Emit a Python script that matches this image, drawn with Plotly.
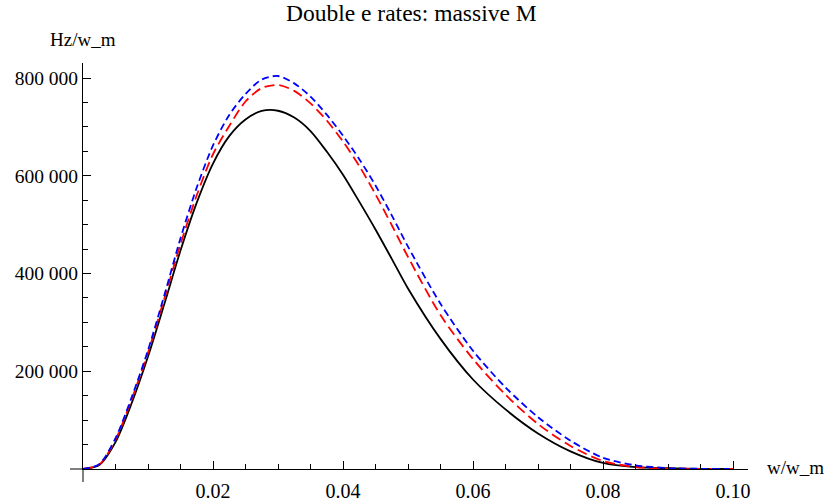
import plotly.graph_objects as go

# ---- data ----
w = [0, 0.0025, 0.005, 0.0075, 0.01, 0.0125, 0.015, 0.0175, 0.02, 0.0225,
     0.025, 0.0275, 0.03, 0.0325, 0.035, 0.0375, 0.04, 0.0425, 0.045, 0.0475,
     0.05, 0.055, 0.06, 0.065, 0.07, 0.075, 0.08, 0.085, 0.09, 0.095, 0.1]

rate_black = [0, 8000, 55000, 135000, 230000, 337000, 447000, 545000, 625000, 681000,
              715000, 732500, 733000, 719000, 691500, 649500, 602000, 547000, 490000, 430000,
              369300, 266200, 183100, 121900, 72800, 36200, 12300, 3700, 1600, 400, 0]

rate_red = [0, 9000, 60000, 143000, 238000, 348000, 460000, 560000, 644000, 701800,
            751900, 779500, 785700, 773700, 748000, 713000, 670000, 620000, 562000, 499000,
            434000, 315000, 225000, 152000, 92000, 47100, 16400, 4100, 1000, 200, 0]

rate_blue = [0, 10000, 63000, 147000, 243000, 355000, 472000, 576000, 662000, 724300,
             767300, 796900, 804100, 789000, 762000, 725000, 682000, 634000, 580000, 519000,
             455000, 338000, 242000, 167000, 106000, 58000, 23000, 7500, 2000, 400, 0]

x_tick_vals = [0.02, 0.04, 0.06, 0.08, 0.10]
x_tick_text = ["0.02", "0.04", "0.06", "0.08", "0.10"]

y_tick_vals = [200000, 400000, 600000, 800000]
y_tick_text = ["200 000", "400 000", "600 000", "800 000"]

title_text = "Double e rates: massive M"
x_label = "w/w_m"
y_label = "Hz/w_m"

# ---- figure ----
FONT = "Liberation Serif, Times New Roman, serif"

fig = go.Figure()
fig.add_trace(go.Scatter(x=w, y=rate_black, mode="lines",
                         line=dict(color="#000000", width=1.8, shape="spline", smoothing=0.8)))
fig.add_trace(go.Scatter(x=w, y=rate_red, mode="lines",
                         line=dict(color="#FF0000", width=1.8, dash="10px,5px",
                                   shape="spline", smoothing=0.8)))
fig.add_trace(go.Scatter(x=w, y=rate_blue, mode="lines",
                         line=dict(color="#0000FF", width=1.8, dash="7px,4px",
                                   shape="spline", smoothing=0.8)))

L, R, T, B = 83, 83, 63, 33
W, H = 831, 502
pw, ph = W - L - R, H - T - B

x1 = pw / 6500.0
y1 = ph * 800000.0 / 391.0
ext = 13  # axis extension beyond the origin, px

fig.update_layout(
    width=W, height=H,
    margin=dict(l=L, r=R, t=T, b=B, autoexpand=False),
    paper_bgcolor="white", plot_bgcolor="white",
    showlegend=False,
    font=dict(family=FONT, size=20, color="black"),
    xaxis=dict(
        range=[0, x1], automargin=False,
        showline=True, linecolor="black", linewidth=1,
        showgrid=False, zeroline=False,
        tickmode="array", tickvals=x_tick_vals, ticktext=x_tick_text,
        ticks="inside", ticklen=8, tickwidth=1, tickcolor="black",
        ticklabelstandoff=4,
        minor=dict(tick0=0, dtick=0.005, ticks="inside",
                   ticklen=5, tickwidth=1, tickcolor="black", showgrid=False),
        tickfont=dict(family=FONT, size=20, color="black"),
    ),
    yaxis=dict(
        range=[0, y1], automargin=False,
        showline=True, linecolor="black", linewidth=1,
        showgrid=False, zeroline=False,
        tickmode="array", tickvals=y_tick_vals, ticktext=y_tick_text,
        ticks="inside", ticklen=8, tickwidth=1, tickcolor="black",
        minor=dict(tick0=0, dtick=50000, ticks="inside",
                   ticklen=5, tickwidth=1, tickcolor="black", showgrid=False),
        tickfont=dict(family=FONT, size=19.5, color="black"),
    ),
    shapes=[
        dict(type="line", xref="paper", yref="paper",
             x0=-ext / pw, x1=0, y0=0, y1=0,
             line=dict(color="black", width=1)),
        dict(type="line", xref="paper", yref="paper",
             x0=0, x1=0, y0=-ext / ph, y1=0,
             line=dict(color="black", width=1)),
    ],
    annotations=[
        dict(text=title_text, xref="paper", yref="paper",
             x=(411.5 - L) / pw, y=(H - B - 13) / ph, xanchor="center", yanchor="middle",
             showarrow=False, font=dict(family=FONT, size=23.5, color="black")),
        dict(text=y_label, xref="paper", yref="paper",
             x=0, y=(H - B - 39) / ph, xanchor="center", yanchor="middle",
             showarrow=False, font=dict(family=FONT, size=19, color="black")),
        dict(text=x_label, xref="paper", yref="paper",
             x=(765 - L) / pw, y=(H - B - 467) / ph, xanchor="left", yanchor="middle",
             showarrow=False, font=dict(family=FONT, size=19, color="black")),
    ],
)

fig.write_html("out.html",
               config={"displayModeBar": False},
               post_script="document.body.style.margin='0';document.body.style.overflow='hidden';")
